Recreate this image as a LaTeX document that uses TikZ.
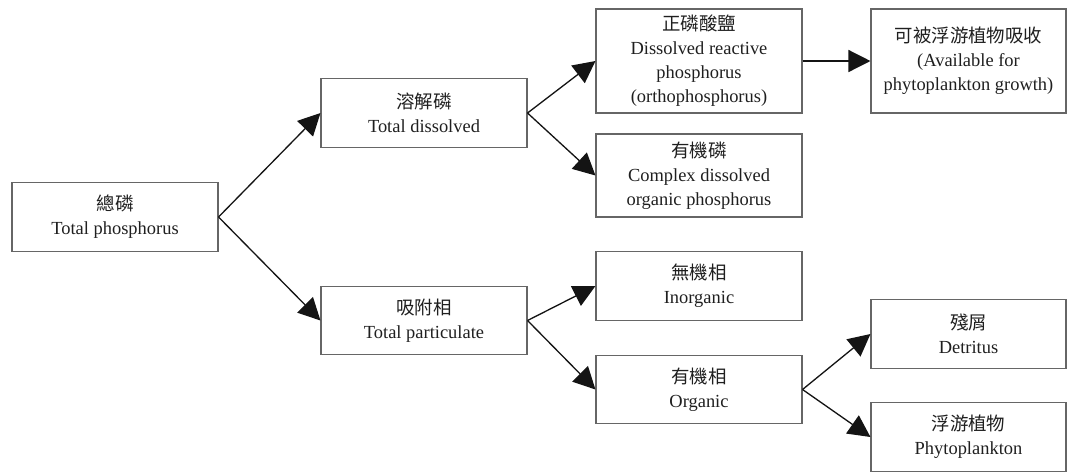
\documentclass[tikz,border=0pt]{standalone}
\usepackage{fontspec}
\setmainfont{Liberation Serif}
\newfontfamily\cjk{Noto Sans CJK TC}
\usetikzlibrary{arrows.meta}

\begin{document}
\begin{tikzpicture}[scale=0.2]
\tikzstyle{every node}+=[inner sep=0pt, font=\fontsize{10.5}{13.7}\selectfont, text=black!88]
\tikzstyle{box}=[draw=black!60, line width=0.6pt, align=center, minimum width=4.12cm, minimum height=1.37cm]
\tikzstyle{link}=[draw=black!92, line width=0.75pt, -{Triangle[length=0.44cm,width=0.44cm]}]
\useasboundingbox (0,0) rectangle (106.7,-47.2);
% first column
\node [box] (tp) at (11.5,-21.7) {{\cjk 總磷}\\Total phosphorus};
% second column
\node [box] (td) at (42.4,-11.3) {{\cjk 溶解磷}\\Total dissolved};
\node [box] (tpart) at (42.4,-32.05) {{\cjk 吸附相}\\Total particulate};
% third column
\node [box, minimum height=2.08cm] (ortho) at (69.9,-6.1) {{\cjk 正磷酸鹽}\\Dissolved reactive\\phosphorus\\(orthophosphorus)};
\node [box, minimum height=1.66cm] (cdop) at (69.9,-17.55) {{\cjk 有機磷}\\Complex dissolved\\organic phosphorus};
\node [box] (inorg) at (69.9,-28.6) {{\cjk 無機相}\\Inorganic};
\node [box] (org) at (69.9,-38.95) {{\cjk 有機相}\\Organic};
% fourth column
\node [box, minimum width=3.9cm, minimum height=2.08cm] (avail) at (96.85,-6.1) {{\cjk 可被浮游植物吸收}\\(Available for\\phytoplankton growth)};
\node [box, minimum width=3.9cm] (detr) at (96.85,-33.4) {{\cjk 殘屑}\\Detritus};
\node [box, minimum width=3.9cm] (phyto) at (96.85,-43.7) {{\cjk 浮游植物}\\Phytoplankton};
% arrows
\draw [link] (tp.east) -- (td.west);
\draw [link] (tp.east) -- (tpart.west);
\draw [link] (td.east) -- (ortho.west);
\draw [link] (td.east) -- (cdop.west);
\draw [link] (ortho.east) -- (avail.west);
\draw [link] (tpart.east) -- (inorg.west);
\draw [link] (tpart.east) -- (org.west);
\draw [link] (org.east) -- (detr.west);
\draw [link] (org.east) -- (phyto.west);
\end{tikzpicture}
\end{document}
